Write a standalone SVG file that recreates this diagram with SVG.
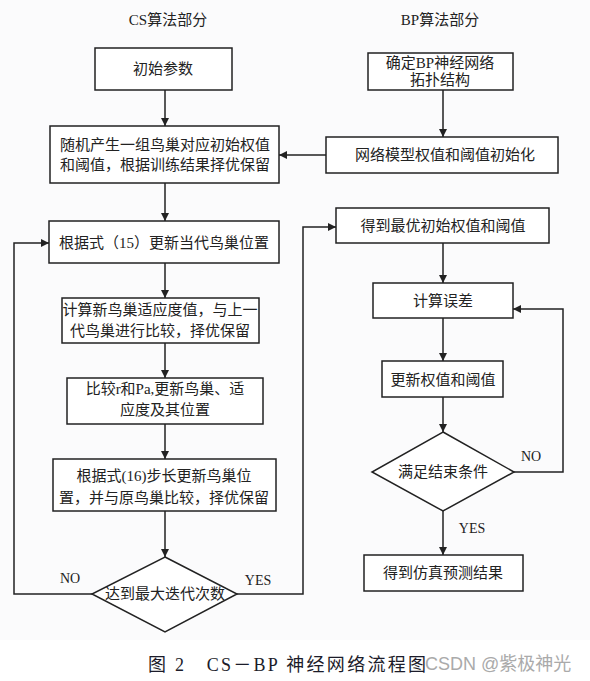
<svg xmlns="http://www.w3.org/2000/svg" width="590" height="681" viewBox="0 0 590 681">
<style>
.box{fill:#fff;stroke:#222;stroke-width:1.5}
.t{font-family:"Liberation Serif","Noto Sans CJK SC",serif;font-size:15px;fill:#222;text-anchor:middle;dominant-baseline:central}
.lbl{font-family:"Liberation Serif","Noto Sans CJK SC",serif;font-size:14px;fill:#222;text-anchor:middle;dominant-baseline:central}
.c{fill:none;stroke:#222;stroke-width:1.5}
</style>
<defs>
<marker id="ah" viewBox="0 0 10 10" refX="10" refY="5" markerWidth="8" markerHeight="8" markerUnits="userSpaceOnUse" orient="auto">
<path d="M0,0 L10,5 L0,10 z" fill="#222"/>
</marker>
</defs>
<rect x="0" y="0" width="590" height="640" fill="#fbfbfc"/>
<rect x="0" y="640" width="590" height="41" fill="#fff"/>
<text class="t" x="168" y="20">CS算法部分</text>
<text class="t" x="440" y="20">BP算法部分</text>
<g id="connectors">
<path class="c" d="M165,90 V126" marker-end="url(#ah)"/>
<path class="c" d="M443,90 V137" marker-end="url(#ah)"/>
<path class="c" d="M326,155 H279" marker-end="url(#ah)"/>
<path class="c" d="M165,183 V221" marker-end="url(#ah)"/>
<path class="c" d="M165,263 V298" marker-end="url(#ah)"/>
<path class="c" d="M165,343 V378" marker-end="url(#ah)"/>
<path class="c" d="M165,424 V459" marker-end="url(#ah)"/>
<path class="c" d="M165,511 V557" marker-end="url(#ah)"/>
<path class="c" d="M92,594 H14 V243 H49" marker-end="url(#ah)"/>
<path class="c" d="M237,594 H303 V227 H336" marker-end="url(#ah)"/>
<path class="c" d="M443,243 V283" marker-end="url(#ah)"/>
<path class="c" d="M443,318 V361" marker-end="url(#ah)"/>
<path class="c" d="M443,397 V432" marker-end="url(#ah)"/>
<path class="c" d="M514,472 H563 V309 H513" marker-end="url(#ah)"/>
<path class="c" d="M443,511 V555" marker-end="url(#ah)"/>
<text class="lbl" x="70" y="578">NO</text>
<text class="lbl" x="258" y="580">YES</text>
<text class="lbl" x="531" y="456">NO</text>
<text class="lbl" x="472" y="528">YES</text>
</g>
<g id="n1"><rect class="box" x="95" y="48" width="137" height="42"/><text class="t" x="163" y="69">初始参数</text></g>
<g id="n2"><rect class="box" x="50" y="126" width="229" height="57"/><text class="t" x="165" y="145">随机产生一组鸟巢对应初始权值</text><text class="t" x="165" y="165">和阈值，根据训练结果择优保留</text></g>
<g id="n3"><rect class="box" x="49" y="221" width="230" height="42"/><text class="t" x="164" y="243">根据式（15）更新当代鸟巢位置</text></g>
<g id="n4"><rect class="box" x="62" y="298" width="197" height="45"/><text class="t" x="160" y="310">计算新鸟巢适应度值，与上一</text><text class="t" x="160" y="331">代鸟巢进行比较，择优保留</text></g>
<g id="n5"><rect class="box" x="67" y="378" width="196" height="46"/><text class="t" x="165" y="389">比较r和Pa,更新鸟巢、适</text><text class="t" x="165" y="410">应度及其位置</text></g>
<g id="n6"><rect class="box" x="53" y="459" width="223" height="52"/><text class="t" x="164" y="476">根据式(16)步长更新鸟巢位</text><text class="t" x="164" y="498">置，并与原鸟巢比较，择优保留</text></g>
<g id="n7"><polygon class="box" points="165,557 237,594 165,632 92,594"/><text class="t" x="165" y="594">达到最大迭代次数</text></g>
<g id="b1"><rect class="box" x="368" y="53" width="145" height="37"/><text class="t" x="440" y="63">确定BP神经网络</text><text class="t" x="440" y="80">拓扑结构</text></g>
<g id="b2"><rect class="box" x="326" y="137" width="232" height="36"/><text class="t" x="445" y="155">网络模型权值和阈值初始化</text></g>
<g id="b3"><rect class="box" x="336" y="208" width="213" height="35"/><text class="t" x="443" y="226">得到最优初始权值和阈值</text></g>
<g id="b4"><rect class="box" x="373" y="283" width="140" height="35"/><text class="t" x="443" y="301">计算误差</text></g>
<g id="b5"><rect class="box" x="382" y="361" width="121" height="36"/><text class="t" x="443" y="380">更新权值和阈值</text></g>
<g id="b6"><polygon class="box" points="443,432 514,472 443,511 372,472"/><text class="t" x="443" y="472">满足结束条件</text></g>
<g id="b7"><rect class="box" x="364" y="555" width="159" height="36"/><text class="t" x="443" y="573">得到仿真预测结果</text></g>
<text x="148" y="671" textLength="278" lengthAdjust="spacing" font-family="'Liberation Serif','Noto Sans CJK SC',serif" font-size="18" fill="#1c1c2a">图 2　CS－BP 神经网络流程图</text>
<text x="425" y="670" font-family="'Liberation Sans','Noto Sans CJK SC',sans-serif" font-size="18" fill="#aaaaaa">CSDN @紫极神光</text>
</svg>
